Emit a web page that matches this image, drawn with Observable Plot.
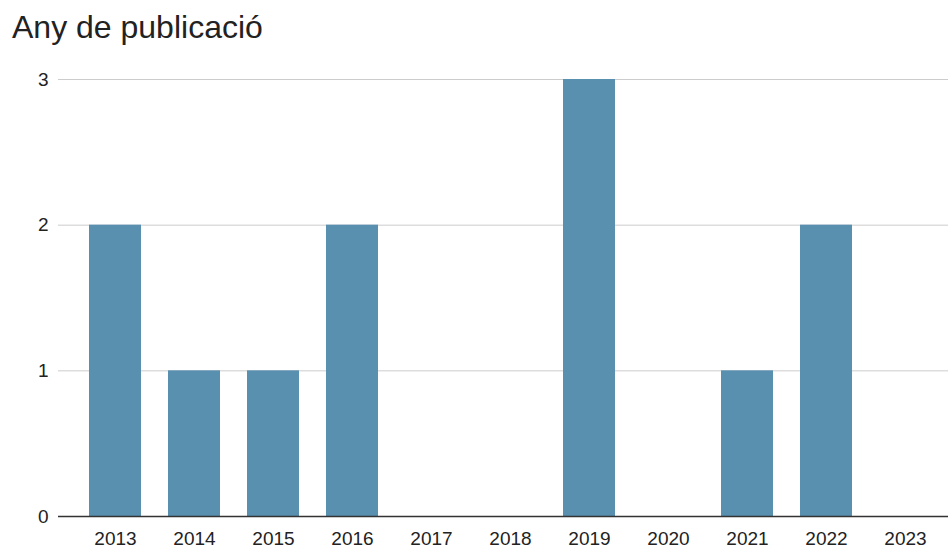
<!DOCTYPE html>
<html>
<head>
<meta charset="utf-8">
<script src="https://cdn.jsdelivr.net/npm/d3@7"></script>
<script src="https://cdn.jsdelivr.net/npm/@observablehq/plot@0.6"></script>
<style>
  html, body { margin: 0; padding: 0; background: #fff; }
  #wrap { position: relative; width: 948px; height: 550px; }
  #title { position: absolute; left: 12px; top: 9px; font-family: "Liberation Sans", Arial, sans-serif; font-size: 32px; color: #222; white-space: nowrap; }
</style>
</head>
<body>
<div id="wrap">
  <div id="title">Any de publicació</div>
  <div id="chart"></div>
</div>
<script>
const years = ["2013","2014","2015","2016","2017","2018","2019","2020","2021","2022","2023"];
const counts = [2, 1, 1, 2, 0, 0, 3, 0, 1, 2, 0];
const yTicks = [0, 1, 2, 3];

const data = years.map((y, i) => ({year: y, count: counts[i]}));

const chart = Plot.plot({
  width: 948,
  height: 550,
  marginTop: 79,
  marginBottom: 34,
  marginLeft: 58,
  marginRight: 0,
  style: {fontFamily: "'Liberation Sans', Arial, sans-serif", fontSize: "19px", color: "#222", background: "transparent"},
  x: {domain: years, padding: 0.343, paddingOuter: 0.3, align: 0.64, label: null},
  y: {domain: [0, 3], ticks: yTicks, label: null},
  marks: [
    Plot.gridY(yTicks, {stroke: "#cccccc", strokeOpacity: 1, strokeWidth: 1}),
    Plot.barY(data, {x: "year", y: "count", fill: "#5990b0"}),
    Plot.ruleY([0], {stroke: "#333", strokeWidth: 1.5}),
    Plot.axisY(yTicks, {tickSize: 0, tickPadding: 10, tickFormat: d => String(d), label: null, fill: "#222"}),
    Plot.axisX({tickSize: 0, tickPadding: 15, label: null, fill: "#222"})
  ]
});
document.getElementById("chart").appendChild(chart);
</script>
</body>
</html>
